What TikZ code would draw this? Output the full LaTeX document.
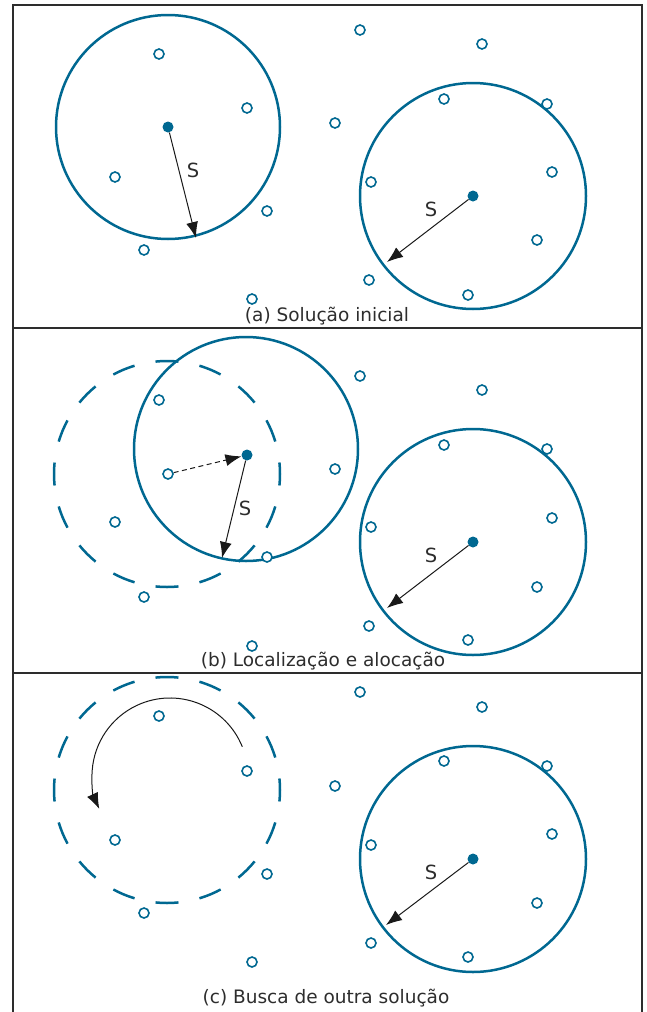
\documentclass[tikz,border=0pt]{standalone}
\usepackage{fontspec}
\setmainfont{DejaVu Sans}
\usetikzlibrary{arrows.meta}
\definecolor{pblue}{RGB}{0,104,145}
\definecolor{frame}{RGB}{45,45,45}
\definecolor{txt}{RGB}{45,45,45}
\tikzset{
  opt/.style={circle,draw=pblue,line width=1.6pt,fill=white,inner sep=0pt,minimum size=10pt},
  ctr/.style={circle,fill=pblue,inner sep=0pt,minimum size=11pt},
  bigc/.style={draw=pblue,line width=2.5pt},
  dashc/.style={draw=pblue,line width=2.5pt,dash pattern=on 23pt off 21.375pt,dash phase=11.5pt},
  rad/.style={draw=black!90,line width=1pt,-{Latex[length=16pt,width=12pt]}},
  lab/.style={font=\fontsize{19.5}{22}\selectfont,text=txt},
  captxt/.style={font=\fontsize{18.5}{22}\selectfont,text=txt},
  frm/.style={draw=frame,line width=2pt}
}
\begin{document}
\begin{tikzpicture}[x=1pt,y=-1pt]
\useasboundingbox (0,0) rectangle (646,1012);
% frame
\draw[frm] (13,1012) -- (13,5) -- (642,5) -- (642,1012);
\draw[frm] (13,328) -- (642,328);
\draw[frm] (13,673) -- (642,673);

% ---------- panel (a)
\node[ctr] (a1) at (168,127) {};
\node[ctr] (a2) at (473,196) {};
\draw[bigc] (a1) circle[radius=112];
\draw[bigc] (a2) circle[radius=113];
\coordinate (a1e) at (196,238);
\coordinate (a2e) at (387,262);
\draw[rad] (a1) -- (a1e);
\draw[rad] (a2) -- (a2e);
\node[lab] (aS1) at (193,170) {S};
\node[lab] (aS2) at (431,209) {S};
\foreach \x/\y [count=\i] in {159/54,247/108,115/177,267/211,144/250,360/30,482/44,335/123,444/99,547/104,371/182,552/172,537/240,369/280,468/295,252/299}
  \node[opt] (ap\i) at (\x,\y) {};
\node[captxt] (acap) at (327,316) {(a) Solução inicial};

% ---------- panel (b)
\node[ctr] (b1) at (247,455) {};
\node[ctr] (b2) at (473,542) {};
\coordinate (bold) at (167,474);
\draw[dashc] (bold) circle[radius=113];
\draw[bigc] (246,449) circle[radius=112];
\draw[bigc] (b2) circle[radius=113];
\node[opt] (bp0) at (168,474) {};
\draw[draw=black!90,line width=1pt,dash pattern=on 5pt off 3.5pt,-{Latex[length=16pt,width=12pt]}] (bp0) -- (b1);
\coordinate (b1e) at (222,558);
\coordinate (b2e) at (387,608);
\draw[rad] (b1) -- (b1e);
\draw[rad] (b2) -- (b2e);
\node[lab] (bS1) at (245,508) {S};
\node[lab] (bS2) at (431,555) {S};
\foreach \x/\y [count=\i] in {159/400,115/522,144/597,267/557,252/646,335/469,360/376,482/390,444/445,547/449,371/527,552/518,537/587,369/626,468/640}
  \node[opt] (bp\i) at (\x,\y) {};
\node[captxt] (bcap) at (323,661) {(b) Localização e alocação};

% ---------- panel (c)
\coordinate (cold) at (167,790);
\draw[dashc] (cold) circle[radius=113];
\node[ctr] (c2) at (473,859) {};
\draw[bigc] (c2) circle[radius=113];
\coordinate (carcc) at (170,776);
\draw[draw=black!90,line width=1pt,-{Latex[length=16pt,width=12pt]}] (carcc) ++(-22:78) arc[start angle=-22,end angle=-205,radius=78];
\coordinate (c2e) at (386,925);
\draw[rad] (c2) -- (c2e);
\node[lab] (cS2) at (431,872) {S};
\foreach \x/\y [count=\i] in {159/716,247/771,115/840,267/874,144/913,252/962,335/786,360/692,482/707,444/761,547/766,371/845,552/834,537/903,371/943,468/957}
  \node[opt] (cp\i) at (\x,\y) {};
\node[captxt] (ccap) at (326,998) {(c) Busca de outra solução};
\end{tikzpicture}
\end{document}
